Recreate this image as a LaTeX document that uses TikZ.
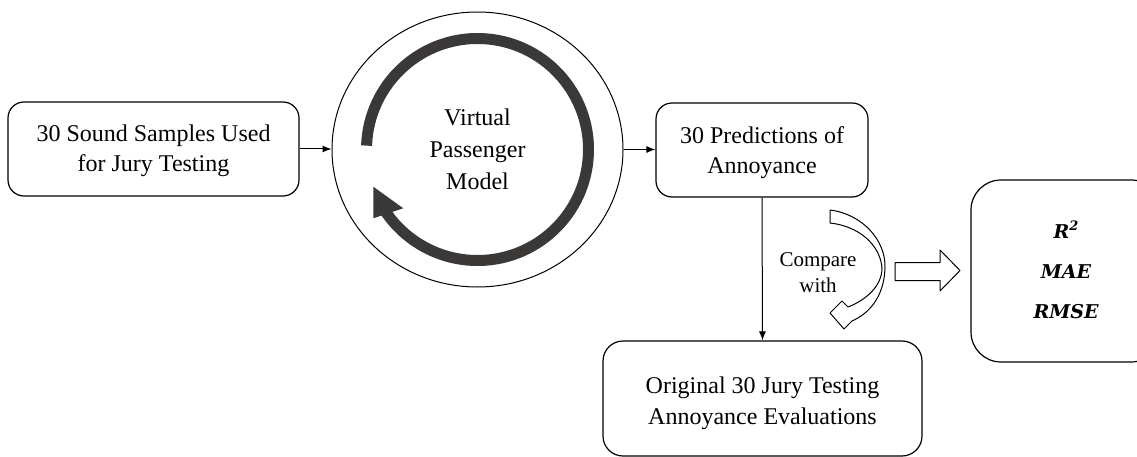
\documentclass[tikz,border=0pt]{standalone}
\usepackage{fontspec}
\setmainfont{Liberation Serif}
\newfontfamily\mfont{DejaVu Serif}
\usetikzlibrary{shapes.geometric,arrows.meta}
\definecolor{arcgray}{RGB}{59,56,56}
\begin{document}
\begin{tikzpicture}[x=1pt,y=-1pt,
  box/.style={draw, line width=1.2pt, rounded corners=16pt, inner sep=0pt},
  txt/.style={align=center, inner sep=0pt, font=\fontsize{24}{30.5}\selectfont},
  conn/.style={-{Latex[length=9pt,width=7pt]}, line width=1pt},
  outline/.style={draw, line width=1pt, fill=white, line join=round}]
\useasboundingbox (0,0) rectangle (1137,457);
\clip (0,0) rectangle (1137,457);

% boxes
\node[box, minimum width=291pt, minimum height=94pt] (samples) at (153.5,149) {};
\node[draw, ellipse, line width=1pt, minimum width=291pt, minimum height=275pt,
  inner sep=0pt] (vpm) at (477.5,149.5) {};
\node[box, minimum width=212pt, minimum height=94pt] (pred) at (762,150) {};
\node[box, rounded corners=20pt, minimum width=319pt, minimum height=115pt] (orig) at (762.5,398.5) {};
\node[box, rounded corners=30pt, minimum width=190pt, minimum height=182pt] (metrics) at (1066,271) {};

% texts
\node[txt] (samplestext) at ([yshift=-2pt]samples.center) {30 Sound Samples Used\\for Jury Testing};
\node[txt, font=\fontsize{24}{32}\selectfont] (vpmtext) at (vpm.center) {Virtual\\Passenger\\Model};
\node[txt] (predtext) at ([yshift=-2.5pt]pred.center) {30 Predictions of\\Annoyance};
\node[txt] (origtext) at ([yshift=-5pt]orig.center) {Original 30 Jury Testing\\Annoyance Evaluations};
\node[txt, font=\fontsize{19}{40}\mfont\bfseries\itshape] (metricstext) at ([yshift=1pt]metrics.center)
  {R\raisebox{0.45em}{\fontsize{13}{13}\selectfont 2}\\MAE\\RMSE};
\node[txt, font=\fontsize{21}{26}\selectfont] (cmp) at (818,273) {Compare\\with};

% cycle arrow inside the circle
\draw[arcgray, line width=11pt] (vpm.center) ++(182:111) arc[start angle=182, end angle=506, radius=111];
\fill[arcgray] (373.3,186.7) -- (373.3,218.3) -- (403.3,208.3) -- cycle;

% connectors
\draw[conn] (samples.east) -- (samples.east -| vpm.west);
\draw[conn] (vpm.east) -- (vpm.east -| pred.west);
\draw[conn] (pred.south) -- (orig.north);

% curved hollow arrow
\path[outline] (830,210) .. controls (862,214) and (886,240) .. (885,268)
  .. controls (884,298) and (868,314) .. (852,321)
  -- (844,329) -- (830,313) -- (842,301) -- (848,307)
  .. controls (866,300) and (882,286) .. (882,268)
  .. controls (880,244) and (858,226) .. (830,223) -- cycle;

% block arrow
\path[outline] (895,262.5) -- (940,262.5) -- (940,250) -- (960,270.5) -- (940,291)
  -- (940,280.5) -- (895,280.5) -- cycle;
\end{tikzpicture}
\end{document}
